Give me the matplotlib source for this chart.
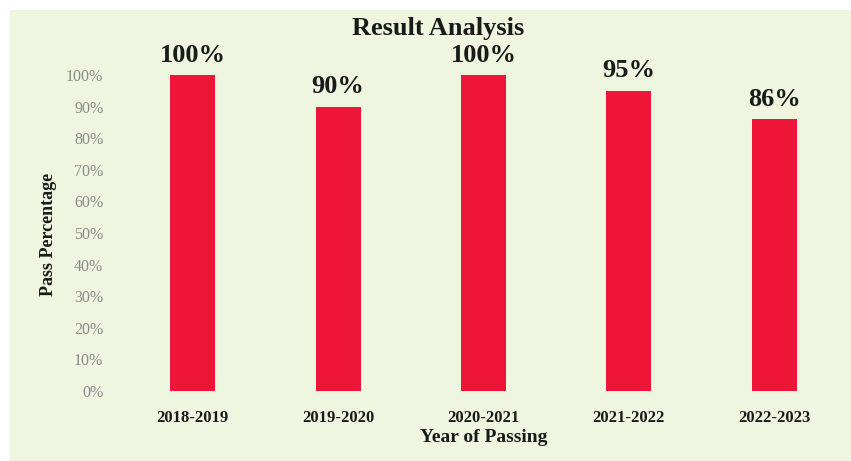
import numpy as np
from matplotlib import pyplot as plt
from matplotlib.patches import Rectangle


years = ["2018-2019", "2019-2020", "2020-2021", "2021-2022", "2022-2023"]
pass_pct = [100, 90, 100, 95, 86]
y_ticks = [0, 10, 20, 30, 40, 50, 60, 70, 80, 90, 100]

plt.rcParams['font.family'] = ['Liberation Serif', 'DejaVu Serif']

fig = plt.figure(figsize=(8.51, 4.61), dpi=100, facecolor='white')

# pale green card behind the chart
bg = Rectangle((10 / 851, 0), 1, 451 / 461, transform=fig.transFigure,
               facecolor='#eff6df', edgecolor='none', zorder=-10)
fig.patches.append(bg)

ax = fig.add_axes([120 / 851, 70 / 461, 727 / 851, 316 / 461])
ax.set_facecolor('none')
ax.set_zorder(1)

x = np.arange(len(years))
bars = ax.bar(x, pass_pct, width=0.31, color='#ee1538')

for b, v in zip(bars, pass_pct):
    ax.annotate(f"{v}%", (b.get_x() + b.get_width() / 2, v),
                xytext=(0, 6), textcoords='offset points',
                ha='center', va='bottom', fontsize=19, fontweight='bold',
                color='#1a1a1a', annotation_clip=False)

ax.set_xlim(-0.5, len(years) - 0.5)
ax.set_ylim(0, 100)
ax.set_xticks(x)
ax.set_xticklabels(years, fontsize=12, fontweight='bold', color='#1a1a1a')
ax.set_yticks(y_ticks)
ax.set_yticklabels([f"{t}%" for t in y_ticks], fontsize=11.5, color='#8a8a8a')
ax.tick_params(axis='both', length=0)
ax.tick_params(axis='y', pad=12)
ax.tick_params(axis='x', pad=14)
for s in ax.spines.values():
    s.set_visible(False)

ax.set_xlabel("Year of Passing", fontsize=14, fontweight='bold', color='#1a1a1a', va='center')
ax.xaxis.set_label_coords(0.5, -0.148)
ax.set_ylabel("Pass Percentage", fontsize=13, fontweight='bold', color='#1a1a1a', va='center')
ax.yaxis.set_label_coords(-0.099, 0.494)

fig.text(438 / 851, 1 - 28 / 461, "Result Analysis", ha='center', va='center',
         fontsize=19, fontweight='bold', color='#1a1a1a')

fig.savefig("out.png", dpi=100)
